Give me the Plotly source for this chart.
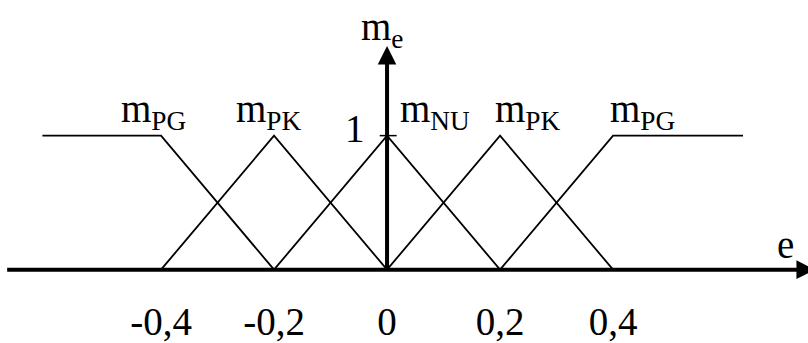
import plotly.graph_objects as go

# Fuzzy membership functions of the error e
pg_neg_x = [-0.61, -0.4, -0.2]
pg_neg_y = [1, 1, 0]
pk_neg_x = [-0.4, -0.2, 0.0]
pk_neg_y = [0, 1, 0]
nu_x = [-0.2, 0.0, 0.2]
nu_y = [0, 1, 0]
pk_pos_x = [0.0, 0.2, 0.4]
pk_pos_y = [0, 1, 0]
pg_pos_x = [0.2, 0.4, 0.63]
pg_pos_y = [0, 1, 1]

# x-axis ticks
tick_vals = [-0.4, -0.2, 0.0, 0.2, 0.4]
tick_text = ["-0,4", "-0,2", "0", "0,2", "0,4"]

# set labels
label_text = ["m<sub>PG</sub>", "m<sub>PK</sub>", "m<sub>NU</sub>",
              "m<sub>PK</sub>", "m<sub>PG</sub>"]
label_x = [-0.414, -0.209, 0.084, 0.25, 0.452]
label_y = 1.18

FONT = "Liberation Serif"
FS = 39

fig = go.Figure()
for xs, ys in [(pg_neg_x, pg_neg_y), (pk_neg_x, pk_neg_y), (nu_x, nu_y),
               (pk_pos_x, pk_pos_y), (pg_pos_x, pg_pos_y)]:
    fig.add_trace(go.Scatter(x=xs, y=ys, mode="lines",
                             line=dict(color="black", width=1.8),
                             showlegend=False, hoverinfo="skip",
                             cliponaxis=False))

annotations = []
# horizontal axis with arrow
annotations.append(dict(x=0.7575, y=0, ax=-0.675, ay=0, xref="x", yref="y",
                        axref="x", ayref="y", text="", showarrow=True,
                        arrowhead=2, arrowwidth=4, arrowsize=0.93,
                        arrowcolor="black", standoff=0, startstandoff=0))
# vertical axis with arrow
annotations.append(dict(x=0, y=1.669, ax=0, ay=0, xref="x", yref="y",
                        axref="x", ayref="y", text="", showarrow=True,
                        arrowhead=2, arrowwidth=4, arrowsize=0.93,
                        arrowcolor="black", standoff=0, startstandoff=0))
for t, x in zip(label_text, label_x):
    annotations.append(dict(x=x, y=label_y, xref="x", yref="y", text=t,
                            showarrow=False, font=dict(family=FONT, size=FS, color="black")))
annotations.append(dict(x=-0.009, y=1.79, xref="x", yref="y", text="m<sub>e</sub>",
                        showarrow=False, font=dict(family=FONT, size=FS, color="black")))
annotations.append(dict(x=-0.057, y=1.05, xref="x", yref="y", text="1",
                        showarrow=False, font=dict(family=FONT, size=FS, color="black")))
annotations.append(dict(x=0.706, y=0.19, xref="x", yref="y", text="e",
                        showarrow=False, font=dict(family=FONT, size=FS, color="black")))

fig.update_layout(
    width=808, height=343,
    margin=dict(l=0, r=0, t=0, b=68),
    paper_bgcolor="white", plot_bgcolor="white",
    annotations=annotations,
    shapes=[dict(type="line", xref="x", yref="y", x0=-0.013, x1=0.017, y0=1, y1=1,
                 line=dict(color="black", width=1.5))],
    xaxis=dict(range=[-0.685, 0.745], tickvals=tick_vals, ticktext=tick_text,
               showgrid=False, zeroline=False, showline=False, ticks="",
               ticklabelstandoff=24,
               tickfont=dict(family=FONT, size=FS, color="black"), fixedrange=True),
    yaxis=dict(range=[-0.01, 2.012], visible=False, fixedrange=True),
)

fig.write_html("out.html", config={"displayModeBar": False})
